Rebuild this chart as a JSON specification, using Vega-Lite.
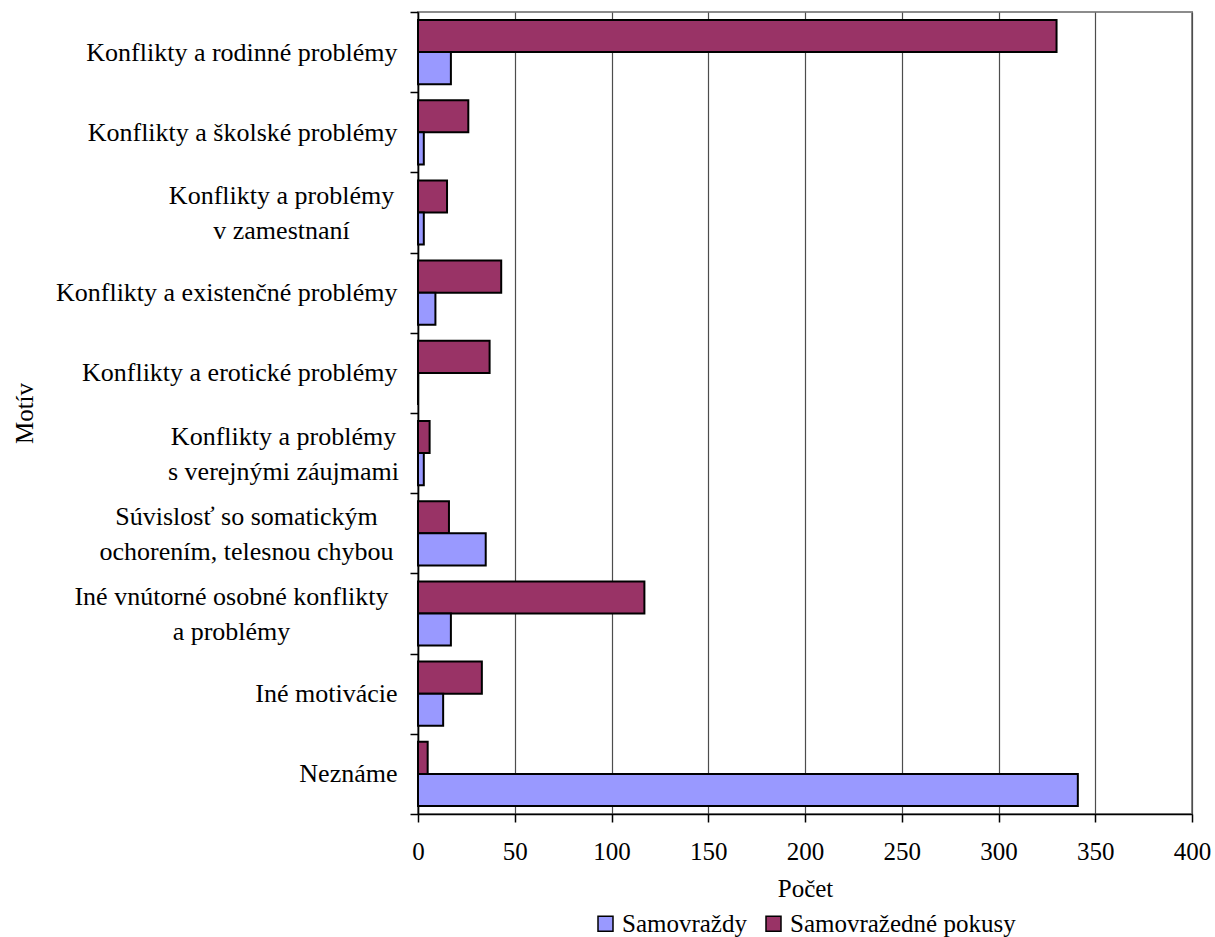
{
  "$schema": "https://vega.github.io/schema/vega-lite/v6.json",
  "autosize": {"type": "none"},
  "padding": {"left": 418, "top": 12, "right": 23, "bottom": 123},
  "width": 774,
  "height": 802,
  "background": "white",
  "config": {
    "view": {"stroke": "#8c8c8c", "strokeWidth": 2},
    "font": "Liberation Serif",
    "axis": {
      "labelFont": "Liberation Serif",
      "titleFont": "Liberation Serif",
      "labelFontSize": 25,
      "titleFontSize": 25,
      "titleFontWeight": "normal",
      "labelColor": "black",
      "titleColor": "black",
      "domainColor": "black",
      "domainWidth": 1.5,
      "tickColor": "black",
      "tickWidth": 1.5,
      "tickSize": 8
    },
    "legend": {
      "labelFont": "Liberation Serif",
      "labelFontSize": 25,
      "labelColor": "black"
    }
  },
  "data": {
    "values": [
      {"motiv": "Konflikty a rodinné problémy", "typ": "Samovražedné pokusy", "pocet": 330},
      {"motiv": "Konflikty a rodinné problémy", "typ": "Samovraždy", "pocet": 17},
      {"motiv": "Konflikty a školské problémy", "typ": "Samovražedné pokusy", "pocet": 26},
      {"motiv": "Konflikty a školské problémy", "typ": "Samovraždy", "pocet": 3},
      {"motiv": "Konflikty a problémy |v zamestnaní", "typ": "Samovražedné pokusy", "pocet": 15},
      {"motiv": "Konflikty a problémy |v zamestnaní", "typ": "Samovraždy", "pocet": 3},
      {"motiv": "Konflikty a existenčné problémy", "typ": "Samovražedné pokusy", "pocet": 43},
      {"motiv": "Konflikty a existenčné problémy", "typ": "Samovraždy", "pocet": 9},
      {"motiv": "Konflikty a erotické problémy", "typ": "Samovražedné pokusy", "pocet": 37},
      {"motiv": "Konflikty a erotické problémy", "typ": "Samovraždy", "pocet": 0},
      {"motiv": "Konflikty a problémy |s verejnými záujmami", "typ": "Samovražedné pokusy", "pocet": 6},
      {"motiv": "Konflikty a problémy |s verejnými záujmami", "typ": "Samovraždy", "pocet": 3},
      {"motiv": "Súvislosť so somatickým |ochorením, telesnou chybou", "typ": "Samovražedné pokusy", "pocet": 16},
      {"motiv": "Súvislosť so somatickým |ochorením, telesnou chybou", "typ": "Samovraždy", "pocet": 35},
      {"motiv": "Iné vnútorné osobné konflikty |a problémy", "typ": "Samovražedné pokusy", "pocet": 117},
      {"motiv": "Iné vnútorné osobné konflikty |a problémy", "typ": "Samovraždy", "pocet": 17},
      {"motiv": "Iné motivácie", "typ": "Samovražedné pokusy", "pocet": 33},
      {"motiv": "Iné motivácie", "typ": "Samovraždy", "pocet": 13},
      {"motiv": "Neznáme", "typ": "Samovražedné pokusy", "pocet": 5},
      {"motiv": "Neznáme", "typ": "Samovraždy", "pocet": 341}
    ]
  },
  "mark": {"type": "bar", "stroke": "black", "strokeWidth": 2},
  "encoding": {
    "y": {
      "field": "motiv",
      "type": "nominal",
      "sort": null,
      "scale": {"paddingInner": 0, "paddingOuter": 0},
      "axis": {
        "title": "Motív",
        "titleX": -386,
        "titleY": 401,
        "titleAngle": -90,
        "titleAlign": "center",
        "titleBaseline": "alphabetic",
        "tickBand": "extent",
        "labelFontSize": 26,
        "labelExpr": "isString(datum.value) ? split(datum.value, '|') : ''",
        "labelLineHeight": 35,
        "labelPadding": {
          "condition": [
            {"test": "datum.value === 'Konflikty a problémy |v zamestnaní'", "value": 129},
            {"test": "datum.value === 'Konflikty a problémy |s verejnými záujmami'", "value": 127},
            {"test": "datum.value === 'Súvislosť so somatickým |ochorením, telesnou chybou'", "value": 164},
            {"test": "datum.value === 'Iné vnútorné osobné konflikty |a problémy'", "value": 179}
          ],
          "value": 13
        },
        "labelAlign": {"condition": {"test": "isString(datum.value) && indexof(datum.value, '|') >= 0", "value": "center"}, "value": "right"},
        "labelOffset": {"condition": {"test": "isString(datum.value) && indexof(datum.value, '|') >= 0", "value": -17}, "value": 0},
        "labelLimit": 500,
        "grid": false
      }
    },
    "yOffset": {
      "field": "typ",
      "type": "nominal",
      "sort": ["Samovražedné pokusy", "Samovraždy"],
      "scale": {"paddingInner": 0, "paddingOuter": 0.25}
    },
    "x": {
      "field": "pocet",
      "type": "quantitative",
      "scale": {"domain": [0, 400], "nice": false},
      "axis": {
        "title": "Počet",
        "values": [0, 50, 100, 150, 200, 250, 300, 350, 400],
        "grid": true,
        "gridColor": "#4d4d4d",
        "gridWidth": 1.2,
        "labelFlush": false,
        "labelPadding": 17,
        "titlePadding": 12
      }
    },
    "color": {
      "field": "typ",
      "type": "nominal",
      "scale": {"domain": ["Samovraždy", "Samovražedné pokusy"], "range": ["#9999FF", "#993366"]},
      "legend": {
        "title": null,
        "orient": "none",
        "legendX": 175,
        "legendY": 899,
        "direction": "horizontal",
        "symbolType": "square",
        "symbolSize": 225,
        "symbolStrokeColor": "black",
        "symbolStrokeWidth": 1.5,
        "columnPadding": 14,
        "labelOffset": 4,
        "labelLimit": 400
      }
    }
  }
}
